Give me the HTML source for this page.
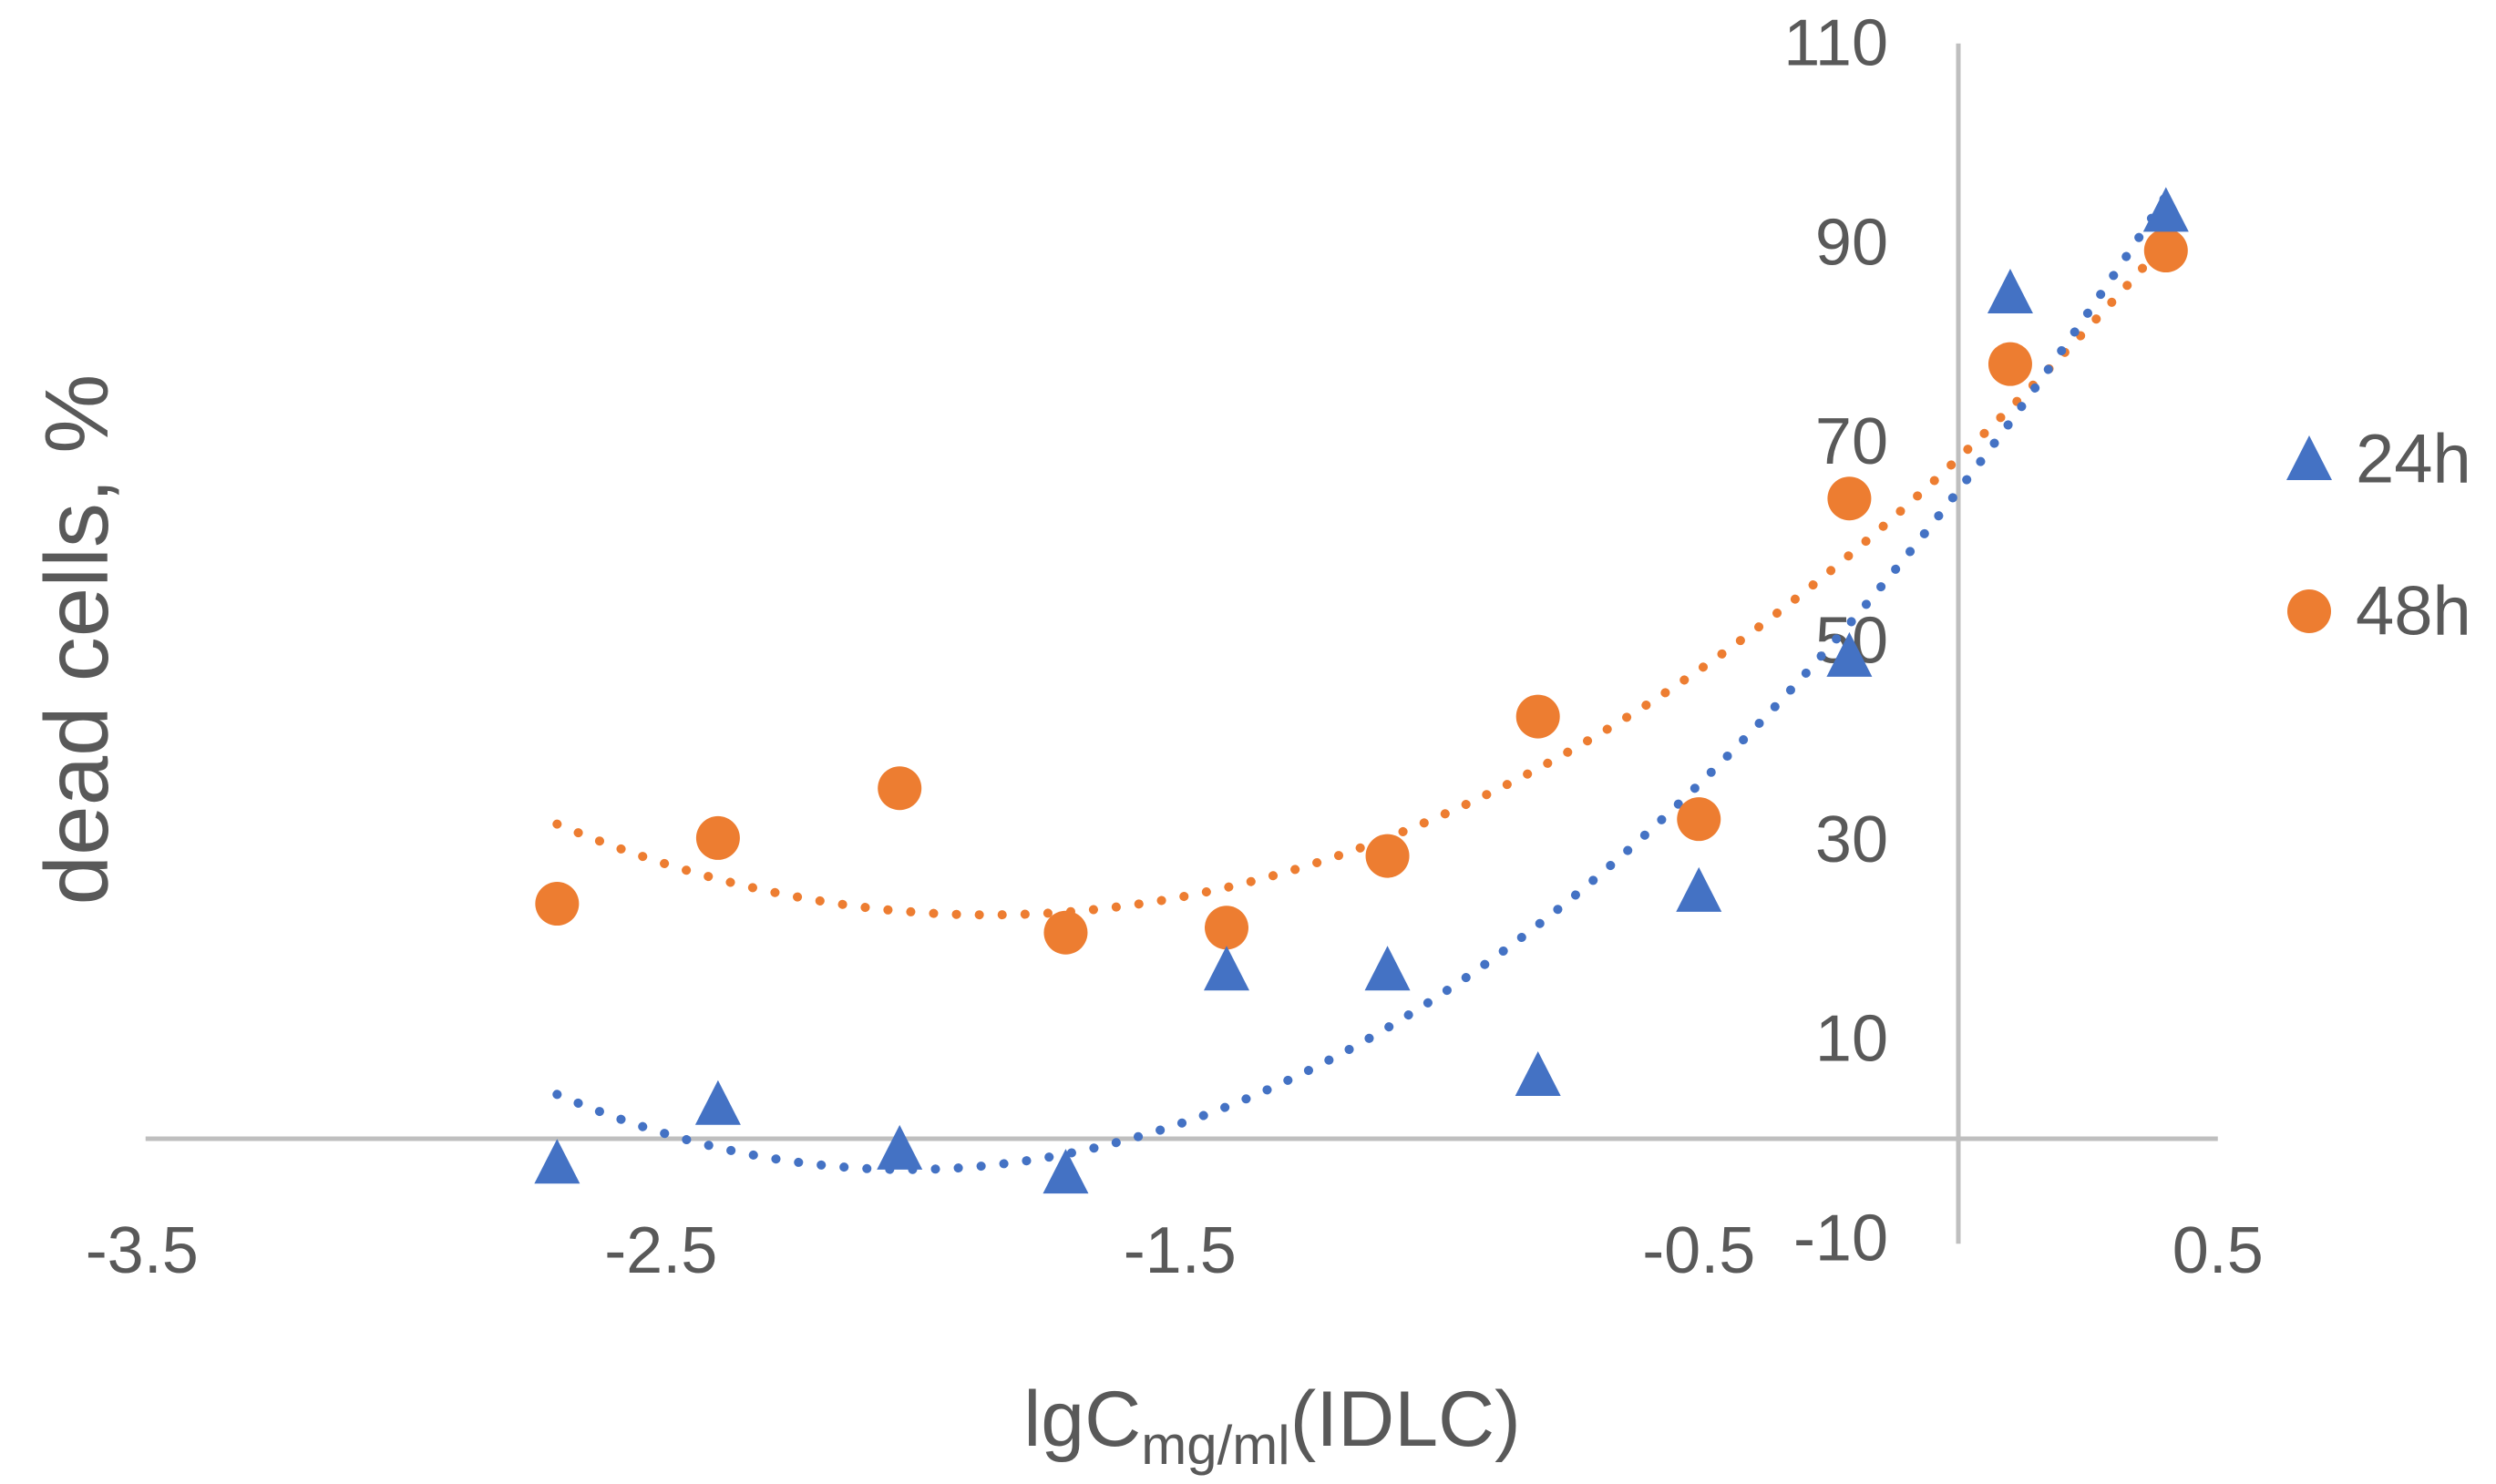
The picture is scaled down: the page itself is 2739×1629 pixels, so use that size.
<!DOCTYPE html>
<html><head><meta charset="utf-8"><style>
html,body{margin:0;padding:0;background:#fff;}
svg{display:block;}
text{font-family:"Liberation Sans",sans-serif;fill:#595959;}
</style></head><body>
<svg id="chart" width="2739" height="1629" viewBox="0 0 2739 1629" xmlns="http://www.w3.org/2000/svg">
<g id="axes"></g>
<g id="trends"></g>
<g id="marks"></g>
<text x="84" y="702" font-size="98" text-anchor="middle" dominant-baseline="central" transform="rotate(-90 84 702)">dead cells, %</text>
<text x="1396" y="1587" font-size="86" text-anchor="middle">lgC<tspan font-size="60" dy="20">mg/ml</tspan><tspan dy="-20">(IDLC)</tspan></text>
<g>
<polygon points="2534,478 2559,527 2509,527" fill="#4472c4"/>
<text x="2585" y="504" font-size="76" dominant-baseline="central">24h</text>
<circle cx="2534" cy="671" r="24" fill="#ed7d31"/>
<text x="2585" y="671" font-size="76" dominant-baseline="central">48h</text>
</g>
</svg>
<script>
const xValues = [-2.70, -2.39, -2.04, -1.72, -1.41, -1.10, -0.81, -0.50, -0.21, 0.10, 0.40];
const series24h = [-2.4, 3.5, -1.0, -3.4, 17.0, 17.0, 6.4, 24.9, 48.5, 85.0, 93.2];
const series48h = [23.6, 30.2, 35.2, 20.7, 21.2, 28.4, 42.4, 32.1, 64.3, 77.8, 89.2];
const xTicks = [-3.5, -2.5, -1.5, -0.5, 0.5];
const xTickLabels = ["-3.5", "-2.5", "-1.5", "-0.5", "0.5"];
const yTicks = [110, 90, 70, 50, 30, 10, -10];
const yTickLabels = ["110", "90", "70", "50", "30", "10", "-10"];

const NS = "http://www.w3.org/2000/svg";
const X0 = 2149, XS = 569.5, Y0 = 1250, YS = 10.93;
function sx(x){ return X0 + x*XS; }
function sy(v){ return Y0 - v*YS; }
function mk(tag, attrs, parent){
  const e = document.createElementNS(NS, tag);
  for (const k in attrs) e.setAttribute(k, attrs[k]);
  parent.appendChild(e); return e;
}
const axes = document.getElementById('axes');
const trends = document.getElementById('trends');
const marks = document.getElementById('marks');

let l = mk('line', {x1: sx(-3.5)+4, x2: sx(0.5), y1: sy(0), y2: sy(0), stroke: '#bfbfbf', 'stroke-width': 5}, axes);


l = mk('line', {x1: sx(0), x2: sx(0), y1: sy(110), y2: sy(-10)+6, stroke: '#bfbfbf', 'stroke-width': 5}, axes);



xTicks.forEach((t, i) => {
  const tx = mk('text', {x: sx(t), y: 1373, 'font-size': 72, 'text-anchor': 'middle', 'dominant-baseline': 'central'}, axes);
  tx.textContent = xTickLabels[i];
  
  
});
yTicks.forEach((t, i) => {
  const tx = mk('text', {x: 2072, y: sy(t), 'font-size': 72, 'text-anchor': 'end', 'dominant-baseline': 'central'}, axes);
  tx.textContent = yTickLabels[i];
  
  
});

function polyfit2(xs, ys){
  let n = xs.length, s = [0,0,0,0,0], t = [0,0,0];
  for (let i=0;i<n;i++){ let p=1; for(let k=0;k<5;k++){ s[k]+=p; if(k<3) t[k]+=p*ys[i]; p*=xs[i]; } }
  const A = [[s[0],s[1],s[2],t[0]],[s[1],s[2],s[3],t[1]],[s[2],s[3],s[4],t[2]]];
  for (let i=0;i<3;i++){ for(let j=i+1;j<3;j++){ const f=A[j][i]/A[i][i]; for(let k=i;k<4;k++) A[j][k]-=f*A[i][k]; } }
  const c=[0,0,0];
  for (let i=2;i>=0;i--){ let v=A[i][3]; for(let k=i+1;k<3;k++) v-=A[i][k]*c[k]; c[i]=v/A[i][i]; }
  return c;
}
function trend(ys, color, name){
  const c = polyfit2(xValues, ys);
  const xa = xValues[0], xb = xValues[xValues.length-1];
  let d = '';
  for (let i=0;i<=120;i++){ const x = xa + (xb-xa)*i/120; const v = c[0]+c[1]*x+c[2]*x*x; d += (i?'L':'M') + sx(x).toFixed(1) + ' ' + sy(v).toFixed(1); }
  const p = mk('path', {d: d, fill: 'none', stroke: color, 'stroke-width': 10, 'stroke-dasharray': '0.1 25', 'stroke-linecap': 'round'}, trends);
  
  
}
trend(series48h, '#ed7d31', 'trendline-48h');
trend(series24h, '#4472c4', 'trendline-24h');

xValues.forEach((x, i) => {
  const cx = sx(x), cy = sy(series48h[i]);
  const c = mk('circle', {cx: cx, cy: cy, r: 24, fill: '#ed7d31'}, marks);
  
  
});
xValues.forEach((x, i) => {
  const cx = sx(x), cy = sy(series24h[i]);
  const t = mk('polygon', {points: `${cx},${cy-26} ${cx+25},${cy+23} ${cx-25},${cy+23}`, fill: '#4472c4'}, marks);
  
  
});
</script>
</body></html>
